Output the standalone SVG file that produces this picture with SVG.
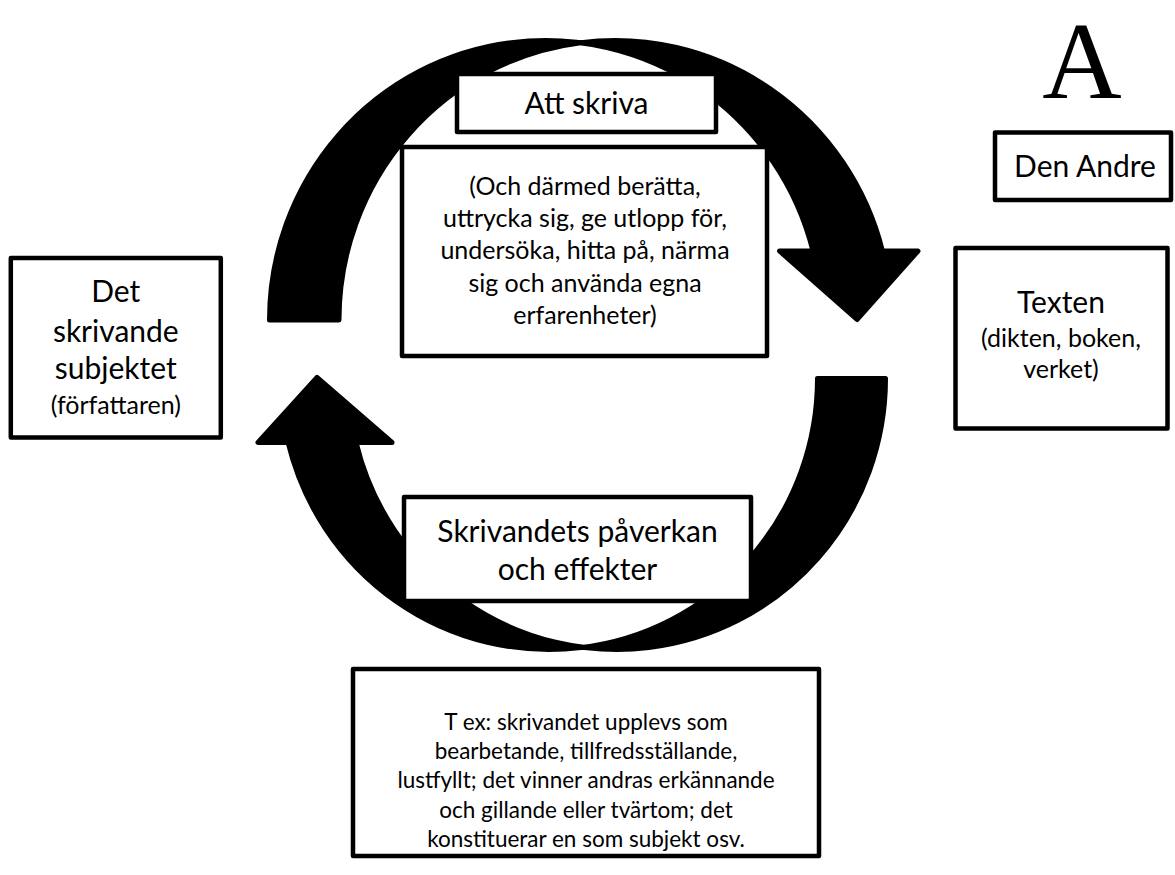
<svg xmlns="http://www.w3.org/2000/svg" width="1175" height="875" viewBox="0 0 1175 875">
<style>
.arrow{fill:#000;stroke:#000;stroke-width:5;stroke-linejoin:round}
.box{fill:#fff;stroke:#000;stroke-width:4.5;stroke-linejoin:round}
text{font-family:Lato,"Noto Sans",sans-serif;fill:#000;text-anchor:middle}
.l{font-size:30px}
.m{font-size:25px}
.s{font-size:22.5px}
</style>
<rect width="1175" height="875" fill="#fff"/>
<g id="connectors">
<path class="arrow" d="M 269.5,320 A 276 279.5 0 0 1 812.96,251 L 779.5,251 L 857,319.5 L 918,251 L 882.46,251 A 276 279.5 0 0 0 339,320 Z"/>
<path class="arrow" d="M 885.5,378.5 A 268.5 271 0 0 1 356.1,442.5 L 392,442.5 L 317,377.5 L 258,442.5 L 288.1,442.5 A 268.5 271 0 0 0 817.5,378.5 Z"/>
</g>
<g id="letter-a"><text x="1082" y="98" style="font-family:'Liberation Serif',serif;font-size:110px">A</text></g>
<g id="den-andre"><rect class="box" x="995" y="132.5" width="176" height="67.5"/><text class="l" x="1085" y="177">Den Andre</text></g>
<g id="att-skriva"><rect class="box" x="457" y="74" width="259" height="58"/><text class="l" x="586.5" y="114">Att skriva</text></g>
<g id="att-skriva-detalj"><rect class="box" x="402" y="147" width="365" height="209"/>
<text class="m" x="585" y="194.5">(Och därmed berätta,</text>
<text class="m" x="585" y="226.9">uttrycka sig, ge utlopp för,</text>
<text class="m" x="585" y="259.3">undersöka, hitta på, närma</text>
<text class="m" x="585" y="291.7">sig och använda egna</text>
<text class="m" x="585" y="324.1">erfarenheter)</text></g>
<g id="subjektet"><rect class="box" x="10.8" y="258" width="210" height="179.5"/>
<text class="l" x="115.8" y="302">Det</text>
<text class="l" x="115.8" y="341.5">skrivande</text>
<text class="l" x="115.8" y="379">subjektet</text>
<text class="m" x="115.8" y="414">(författaren)</text></g>
<g id="texten"><rect class="box" x="955.5" y="248" width="212" height="180.5"/>
<text class="l" x="1061" y="313">Texten</text>
<text class="m" x="1061" y="347">(dikten, boken,</text>
<text class="m" x="1061" y="378">verket)</text></g>
<g id="paverkan"><rect class="box" x="404" y="497" width="347" height="104"/>
<text class="l" x="577.5" y="541.7">Skrivandets påverkan</text>
<text class="l" x="577.5" y="580">och effekter</text></g>
<g id="exempel"><rect class="box" x="353" y="669" width="466" height="187"/>
<text class="s" x="586" y="730">T ex: skrivandet upplevs som</text>
<text class="s" x="586" y="759.2">bearbetande, tillfredsställande,</text>
<text class="s" x="586" y="788.4">lustfyllt; det vinner andras erkännande</text>
<text class="s" x="586" y="817.6">och gillande eller tvärtom; det</text>
<text class="s" x="586" y="846.8">konstituerar en som subjekt osv.</text></g>
</svg>
